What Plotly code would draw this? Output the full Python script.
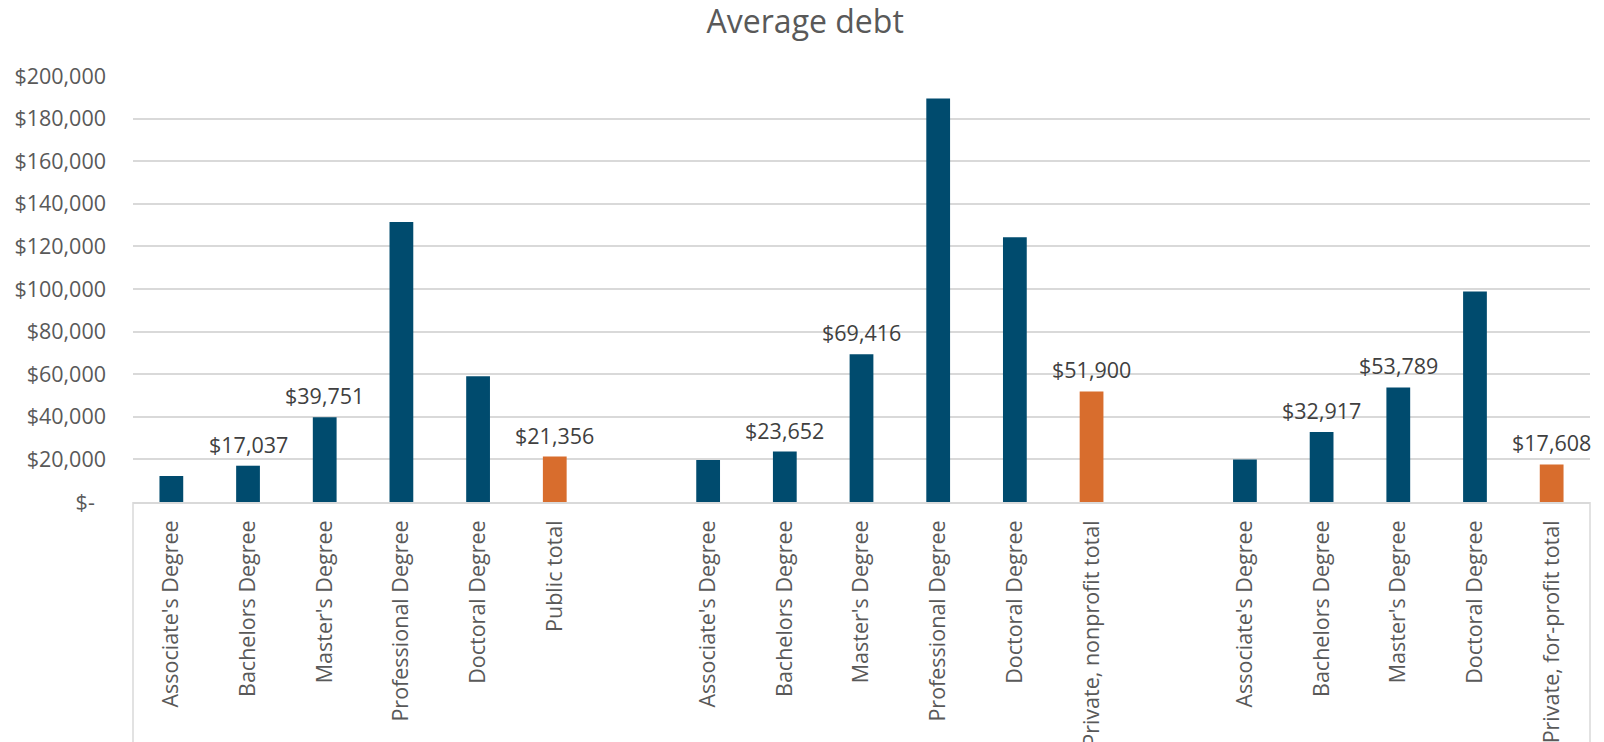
import plotly.graph_objects as go

# Average debt by degree, grouped by institution sector
degree_labels = ["Associate's Degree", "Bachelors Degree", "Master's Degree",
                 "Professional Degree", "Doctoral Degree"]

public_values = [12200, 17037, 39751, 131500, 59000]
public_total = 21356

nonprofit_values = [19700, 23652, 69416, 189400, 124300]
nonprofit_total = 51900

forprofit_labels = ["Associate's Degree", "Bachelors Degree", "Master's Degree",
                    "Doctoral Degree"]
forprofit_values = [20000, 32917, 53789, 98800]
forprofit_total = 17608

total_labels = ["Public total", "Private, nonprofit total", "Private, for-profit total"]

# degrees whose values get a data label
labelled = {"Bachelors Degree", "Master's Degree"}

y_ticks = [0, 20000, 40000, 60000, 80000, 100000, 120000, 140000, 160000, 180000, 200000]

BLUE = "#004B6E"
ORANGE = "#D86D2D"

groups = [
    (degree_labels, public_values, total_labels[0], public_total),
    (degree_labels, nonprofit_values, total_labels[1], nonprofit_total),
    (forprofit_labels, forprofit_values, total_labels[2], forprofit_total),
]

xs, ys, colors, ticktext, label_pts = [], [], [], [], []
pos = 0
for gi, (labels, values, tlabel, tvalue) in enumerate(groups):
    for lab, val in zip(labels, values):
        xs.append(pos); ys.append(val); colors.append(BLUE); ticktext.append(lab)
        if lab in labelled:
            label_pts.append((pos, val))
        pos += 1
    xs.append(pos); ys.append(tvalue); colors.append(ORANGE); ticktext.append(tlabel)
    label_pts.append((pos, tvalue))
    pos += 1
    if gi < len(groups) - 1:
        pos += 1  # blank slot between sectors
n_slots = pos

fig = go.Figure(go.Bar(
    x=xs, y=ys, marker=dict(color=colors, line=dict(width=0)),
    width=0.31, hoverinfo="y",
))

for x, v in label_pts:
    fig.add_annotation(
        x=x, y=v, text=f"${v:,}", showarrow=False, yanchor="bottom", yshift=5,
        font=dict(family="Open Sans", size=21.5, color="#404040"),
    )

def money(v):
    return "$-\u00a0\u00a0" if v == 0 else f"${v:,}"

fig.update_layout(
    width=1604, height=742,
    margin=dict(l=133, r=14, t=76, b=240, autoexpand=False),
    paper_bgcolor="white", plot_bgcolor="white",
    showlegend=False,
    title=dict(text="Average debt", xref="container", x=0.502, xanchor="center",
               y=0.97, yanchor="middle",
               font=dict(family="Open Sans", size=32, color="#595959")),
    xaxis=dict(
        range=[-0.5, n_slots - 0.5], automargin=False,
        tickmode="array", tickvals=xs, ticktext=ticktext, tickangle=-90,
        tickfont=dict(family="Open Sans", size=21.5, color="#595959"),
        showgrid=False, zeroline=False,
        showline=True, linecolor="#D9D9D9", linewidth=1.5,
        ticks="", ticklabelstandoff=8,
    ),
    yaxis=dict(
        range=[0, 200000], automargin=False,
        tickmode="array", tickvals=y_ticks, ticktext=[money(v) for v in y_ticks],
        tickfont=dict(family="Open Sans", size=21.5, color="#595959"),
        showgrid=True, gridcolor="#D9D9D9", gridwidth=1.5,
        zeroline=False, showline=False, ticks="", ticklabelstandoff=26,
    ),
)

# category axis frame lines extending down past the labels
for xp in (0, 1):
    fig.add_shape(type="line", xref="paper", yref="paper", x0=xp, x1=xp, y0=0, y1=-1.2,
                  line=dict(color="#D9D9D9", width=1.5))

fig.write_html("out.html")
